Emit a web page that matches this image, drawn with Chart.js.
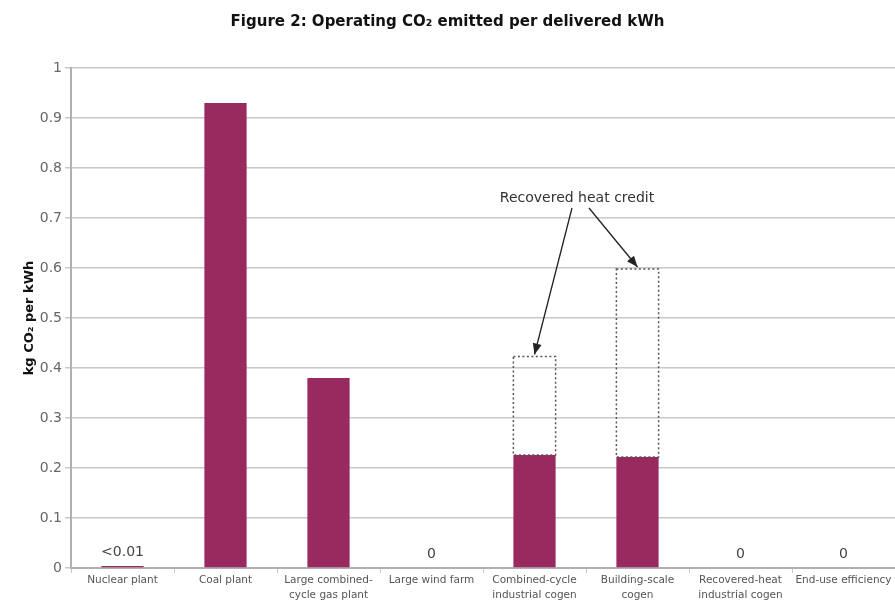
<!DOCTYPE html>
<html lang="en">
<head>
  <meta charset="UTF-8" />
  <title>Operating CO2 emitted per delivered kWh</title>
  <script src="https://cdn.jsdelivr.net/npm/chart.js"></script>
  <style>
    html, body {
      margin: 0;
      padding: 0;
      background: #fff;
    }
    #wrap {
      width: 895px;
      height: 606px;
    }
  </style>
</head>
<body>
  <div id="wrap"><canvas id="chart" width="895" height="606"></canvas></div>

  <script>
    // data
    const categories = [
      'Nuclear plant',
      'Coal plant',
      ['Large combined-', 'cycle gas plant'],
      'Large wind farm',
      ['Combined-cycle', 'industrial cogen'],
      ['Building-scale', 'cogen'],
      ['Recovered-heat', 'industrial cogen'],
      'End-use efficiency'
    ];
    const emitted = [0.004, 0.93, 0.38, 0, 0.226, 0.222, 0, 0];
    const heatCredit = [0, 0, 0, 0, 0.197, 0.376, 0, 0];
    const valueNotes = ['<0.01', '', '', '0', '', '', '0', '0'];
    const yTicks = [0, 0.1, 0.2, 0.3, 0.4, 0.5, 0.6, 0.7, 0.8, 0.9, 1];
    const creditNote = 'Recovered heat credit';

    const barColor = '#992a5f';
    const gridColor = '#c8c8c8';
    const font = 'DejaVu Sans';

    // dotted boxes, small value labels and the arrow note
    const extras = {
      id: 'extras',
      afterDatasetsDraw(chart) {
        const ctx = chart.ctx;
        const x = chart.scales.x, y = chart.scales.y;
        const creditMeta = chart.getDatasetMeta(1);
        const baseMeta = chart.getDatasetMeta(0);

        ctx.save();
        // dotted outline for the heat credit part
        ctx.strokeStyle = '#555';
        ctx.lineWidth = 1.5;
        ctx.setLineDash([2, 2.5]);
        creditMeta.data.forEach((bar, i) => {
          if (!heatCredit[i]) return;
          const p = bar.getProps(['x', 'y', 'base', 'width'], true);
          ctx.strokeRect(p.x - p.width / 2, p.y, p.width, p.base - p.y);
        });
        ctx.setLineDash([]);

        // small labels over the tiny / zero bars
        ctx.fillStyle = '#444';
        ctx.font = '14px ' + font;
        ctx.textAlign = 'center';
        ctx.textBaseline = 'bottom';
        baseMeta.data.forEach((bar, i) => {
          if (!valueNotes[i]) return;
          ctx.fillText(valueNotes[i], bar.x, Math.min(bar.y, bar.base) - 7);
        });

        // note with two arrows
        const tx = (x.getPixelForValue(4) + x.getPixelForValue(5)) / 2 - 9;
        const ty = y.getPixelForValue(0.74);
        ctx.font = '14px ' + font;
        ctx.textBaseline = 'middle';
        ctx.fillStyle = '#333';
        ctx.fillText(creditNote, tx, ty);

        const arrow = (x0, y0, x1, y1) => {
          ctx.strokeStyle = '#222';
          ctx.fillStyle = '#222';
          ctx.lineWidth = 1.3;
          ctx.beginPath();
          ctx.moveTo(x0, y0);
          ctx.lineTo(x1, y1);
          ctx.stroke();
          const a = Math.atan2(y1 - y0, x1 - x0);
          const len = 11, w = 4.5;
          ctx.beginPath();
          ctx.moveTo(x1, y1);
          ctx.lineTo(x1 - len * Math.cos(a) + w * Math.sin(a), y1 - len * Math.sin(a) - w * Math.cos(a));
          ctx.lineTo(x1 - len * Math.cos(a) - w * Math.sin(a), y1 - len * Math.sin(a) + w * Math.cos(a));
          ctx.closePath();
          ctx.fill();
        };
        [4, 5].forEach((i, k) => {
          const bar = creditMeta.data[i];
          const sx = k === 0 ? tx - 5 : tx + 12;
          arrow(sx, ty + 10, bar.x, bar.y - 2);
        });
        ctx.restore();
      }
    };

    new Chart(document.getElementById('chart'), {
      type: 'bar',
      data: {
        labels: categories,
        datasets: [
          {
            label: 'Operating CO2',
            data: emitted,
            backgroundColor: barColor,
            categoryPercentage: 1,
            barPercentage: 0.41
          },
          {
            label: 'Recovered heat credit',
            data: heatCredit,
            backgroundColor: 'rgba(0,0,0,0)',
            categoryPercentage: 1,
            barPercentage: 0.41
          }
        ]
      },
      options: {
        responsive: false,
        animation: false,
        layout: { padding: { left: 0, right: 0, top: 0, bottom: 0 } },
        plugins: {
          legend: { display: false },
          tooltip: { enabled: false },
          title: {
            display: true,
            text: 'Figure 2: Operating CO₂ emitted per delivered kWh',
            color: '#111',
            font: { family: font, size: 15, weight: 'bold' },
            padding: { top: 13, bottom: 37 }
          }
        },
        scales: {
          x: {
            stacked: true,
            afterFit: s => { s.height = 38; },
            grid: {
              display: true,
              offset: true,
              drawOnChartArea: false,
              drawTicks: true,
              tickLength: 5,
              color: gridColor
            },
            border: { color: '#b0b0b0', width: 2 },
            ticks: {
              color: '#555',
              font: { family: font, size: 10.5, lineHeight: 1.4 },
              maxRotation: 0,
              autoSkip: false,
              padding: 0
            }
          },
          y: {
            stacked: true,
            min: 0,
            max: 1,
            afterFit: s => { s.width = 71; },
            afterBuildTicks: s => { s.ticks = yTicks.map(v => ({ value: v })); },
            grid: {
              color: gridColor,
              lineWidth: 1.5,
              tickLength: 6
            },
            border: { color: '#b0b0b0', width: 2 },
            ticks: {
              color: '#666',
              font: { family: font, size: 14 },
              padding: 3,
              callback: v => String(+v.toFixed(1))
            },
            title: {
              display: true,
              text: 'kg CO₂ per kWh',
              color: '#111',
              font: { family: font, size: 13, weight: 'bold' },
              padding: { top: 22, bottom: 0 }
            }
          }
        }
      },
      plugins: [extras]
    });
  </script>
</body>
</html>
